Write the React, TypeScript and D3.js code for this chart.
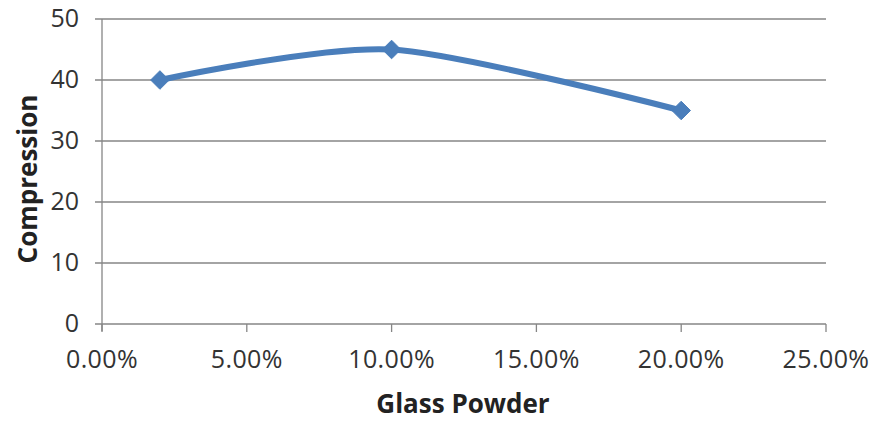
import * as d3 from 'd3';
import { useEffect, useRef } from 'react';

const glassPowder = [0.02, 0.1, 0.2];
const compression = [40, 45, 35];
const xTicks = [0, 0.05, 0.1, 0.15, 0.2, 0.25];
const yTicks = [0, 10, 20, 30, 40, 50];

export default function App() {
  const ref = useRef<SVGSVGElement | null>(null);
  useEffect(() => {
    if (!ref.current) return;
    const svg = d3.select(ref.current);
    svg.selectAll('*').remove();
    const width = 875;
    const height = 421;
    const margin = { top: 19, right: 49, bottom: 97, left: 102 };
    const font = 'Open Sans, Liberation Sans, sans-serif';

    const x = d3.scaleLinear().domain([0, 0.25]).range([margin.left, width - margin.right]);
    const y = d3.scaleLinear().domain([0, 50]).range([height - margin.bottom, margin.top]);

    // grid lines
    svg
      .append('g')
      .selectAll('line')
      .data(yTicks)
      .enter()
      .append('line')
      .attr('x1', margin.left - 7)
      .attr('x2', width - margin.right)
      .attr('y1', (d) => y(d))
      .attr('y2', (d) => y(d))
      .attr('stroke', '#868686')
      .attr('stroke-width', 1.3);

    // y axis line
    svg
      .append('line')
      .attr('x1', margin.left)
      .attr('x2', margin.left)
      .attr('y1', y(50))
      .attr('y2', y(0) + 7)
      .attr('stroke', '#868686')
      .attr('stroke-width', 1.3);

    // x ticks
    svg
      .append('g')
      .selectAll('line')
      .data(xTicks)
      .enter()
      .append('line')
      .attr('x1', (d) => x(d))
      .attr('x2', (d) => x(d))
      .attr('y1', y(0))
      .attr('y2', y(0) + 8)
      .attr('stroke', '#868686')
      .attr('stroke-width', 1.3);

    svg
      .append('g')
      .selectAll('text')
      .data(yTicks)
      .enter()
      .append('text')
      .attr('x', 79)
      .attr('y', (d) => y(d))
      .attr('dy', '0.33em')
      .attr('text-anchor', 'end')
      .attr('font-family', font)
      .attr('font-size', 25)
      .attr('fill', '#333')
      .text((d) => d);

    svg
      .append('g')
      .selectAll('text')
      .data(xTicks)
      .enter()
      .append('text')
      .attr('x', (d) => x(d))
      .attr('y', 368)
      .attr('text-anchor', 'middle')
      .attr('font-family', font)
      .attr('font-size', 25)
      .attr('letter-spacing', 0.4)
      .attr('fill', '#333')
      .text((d) => d3.format('.2%')(d));

    svg
      .append('text')
      .attr('x', 463)
      .attr('y', 413)
      .attr('text-anchor', 'middle')
      .attr('font-family', font)
      .attr('font-weight', 'bold')
      .attr('font-size', 26)
      .attr('fill', '#222')
      .text('Glass Powder');

    svg
      .append('text')
      .attr('transform', `translate(37, 179) rotate(-90)`)
      .attr('text-anchor', 'middle')
      .attr('font-family', font)
      .attr('font-weight', 'bold')
      .attr('font-size', 26)
      .attr('fill', '#222')
      .text('Compression');

    const pts = glassPowder.map((g, i) => [g, compression[i]] as [number, number]);
    const line = d3
      .line<[number, number]>()
      .x((d) => x(d[0]))
      .y((d) => y(d[1]))
      .curve(d3.curveCardinal.tension(0.2));

    svg
      .append('path')
      .attr('d', line(pts))
      .attr('fill', 'none')
      .attr('stroke', '#4a7ebb')
      .attr('stroke-width', 6);

    svg
      .append('g')
      .selectAll('path')
      .data(pts)
      .enter()
      .append('path')
      .attr('transform', (d) => `translate(${x(d[0])}, ${y(d[1])})`)
      .attr('d', d3.symbol(d3.symbolDiamond2, 220)())
      .attr('fill', '#4a7ebb')
      .attr('stroke', '#4a7ebb')
      .attr('stroke-width', 1);
  }, []);

  return <svg ref={ref} width={875} height={421} style={{ position: 'absolute', left: 0, top: 0 }} />;
}
